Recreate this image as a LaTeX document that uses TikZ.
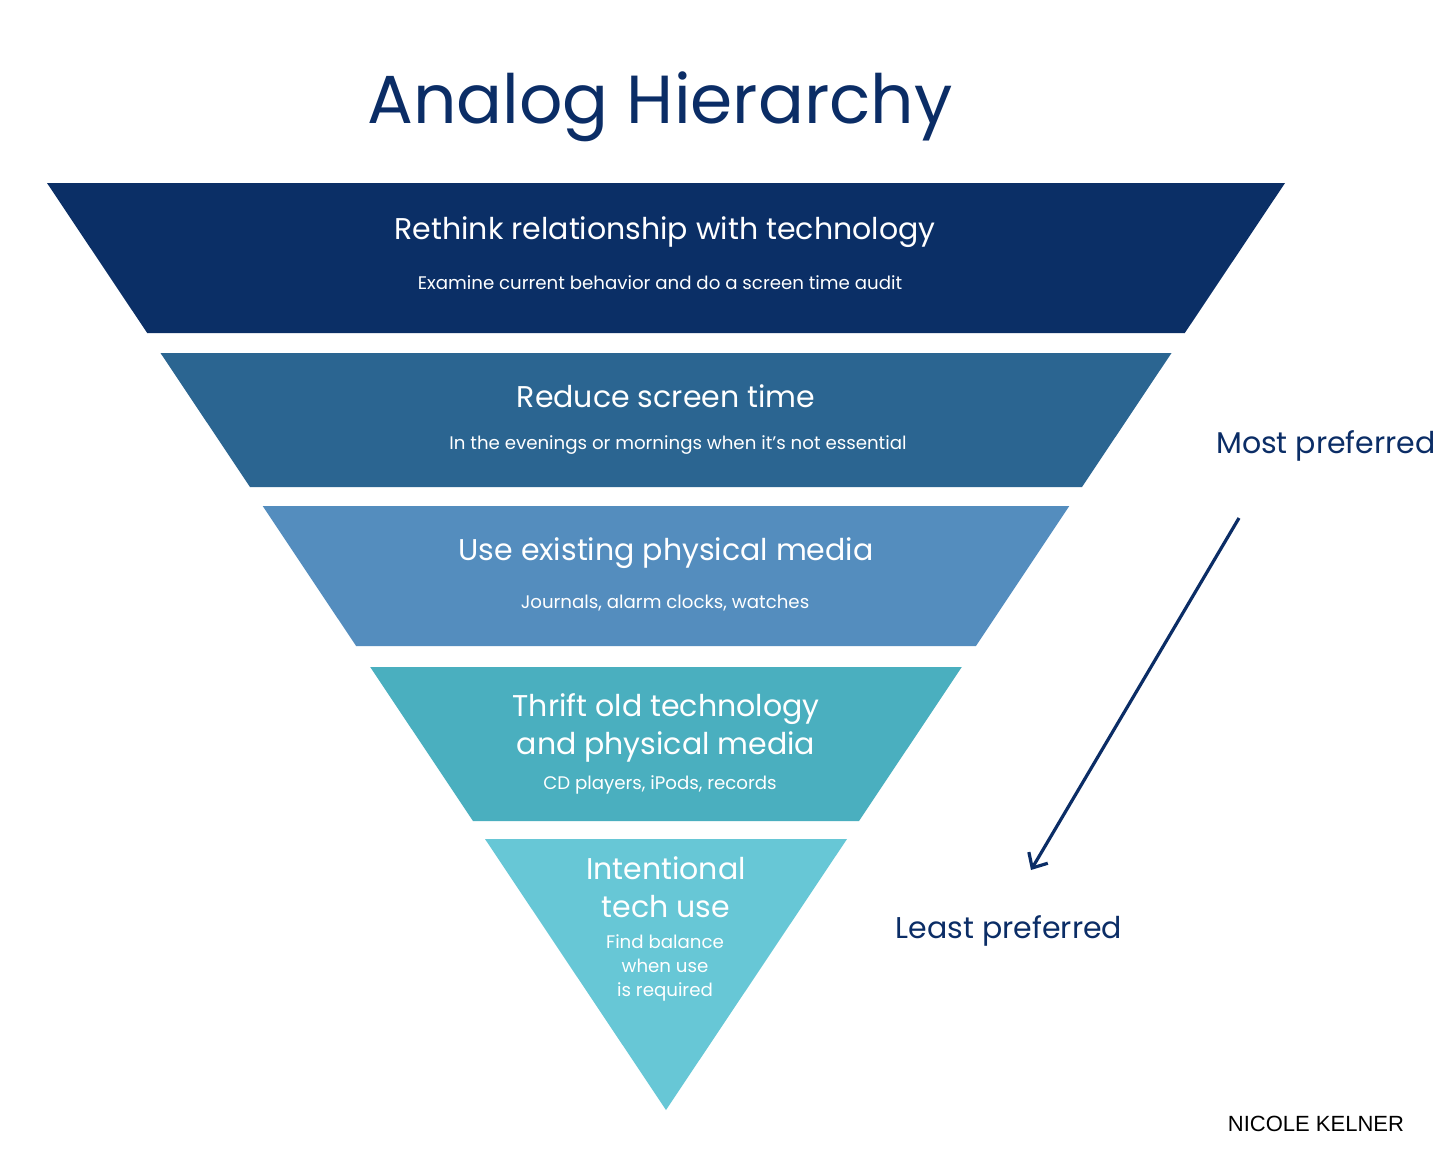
\documentclass[tikz,border=0pt]{standalone}
\usepackage{fontspec}
\setmainfont{Poppins}
\newfontfamily\sigfont{Liberation Sans}
\usetikzlibrary{arrows.meta}
\definecolor{navy}{HTML}{0B2D66}
\definecolor{lvA}{HTML}{0B2F66}
\definecolor{lvB}{HTML}{2B6591}
\definecolor{lvC}{HTML}{548DBE}
\definecolor{lvD}{HTML}{4AAFBF}
\definecolor{lvE}{HTML}{67C7D6}
\tikzset{
  mainlbl/.style={text=white, align=center, font=\fontsize{30}{38}\selectfont, inner sep=0pt},
  sublbl/.style={text=white, align=center, font=\fontsize{18.2}{24}\selectfont, inner sep=0pt},
  sidelbl/.style={text=navy, font=\fontsize{30}{36}\selectfont, inner sep=0pt},
}
\begin{document}
\begin{tikzpicture}[x=1pt,y=-1pt]
\useasboundingbox (0,0) rectangle (1456,1160);
\fill[white] (0,0) rectangle (1456,1160);
% levels
\fill[lvA] (47,183) -- (1285,183) -- (1184.8,333) -- (147.2,333) -- cycle;
\fill[lvB] (160.5,353) -- (1171.5,353) -- (1082,487) -- (250,487) -- cycle;
\fill[lvC] (262.7,506) -- (1069.3,506) -- (975.9,646) -- (356.1,646) -- cycle;
\fill[lvD] (370.2,667) -- (961.8,667) -- (859,821) -- (473,821) -- cycle;
\fill[lvE] (485,839) -- (847,839) -- (666,1110) -- cycle;
% title
\node[text=navy, font=\fontsize{68}{80}\selectfont, inner sep=0pt] (title) at (660,107) {Analog Hierarchy};
% labels
\node[mainlbl] (t1) at (665,232) {Rethink relationship with technology};
\node[sublbl] (s1) at (660,283) {Examine current behavior and do a screen time audit};
\node[mainlbl] (t2) at (666,396) {Reduce screen time};
\node[sublbl] (s2) at (678,445) {In the evenings or mornings when it’s not essential};
\node[mainlbl] (t3) at (666,553) {Use existing physical media};
\node[sublbl] (s3) at (665,603) {Journals, alarm clocks, watches};
\node[mainlbl] (t4) at (666,728) {Thrift old technology\\and physical media};
\node[sublbl] (s4) at (660,785) {CD players, iPods, records};
\node[mainlbl] (t5) at (666,887) {Intentional\\tech use};
\node[sublbl] (s5) at (665,968) {Find balance\\when use\\is required};
% side labels
\node[sidelbl] (most) at (1326,446) {Most preferred};
\node[sidelbl] (least) at (1009,931) {Least preferred};
\coordinate (arrS) at (1239,518);
\coordinate (arrE) at (1031,870);
\draw[navy, line width=3.2pt, -{Straight Barb[length=12pt,width=22pt,line width=3.2pt]}] (arrS) -- (arrE);
% signature
\node[font=\sigfont\fontsize{22}{26}\selectfont, text=black, inner sep=0pt] (sig) at (1316,1124) {NICOLE KELNER};
\end{tikzpicture}
\end{document}
